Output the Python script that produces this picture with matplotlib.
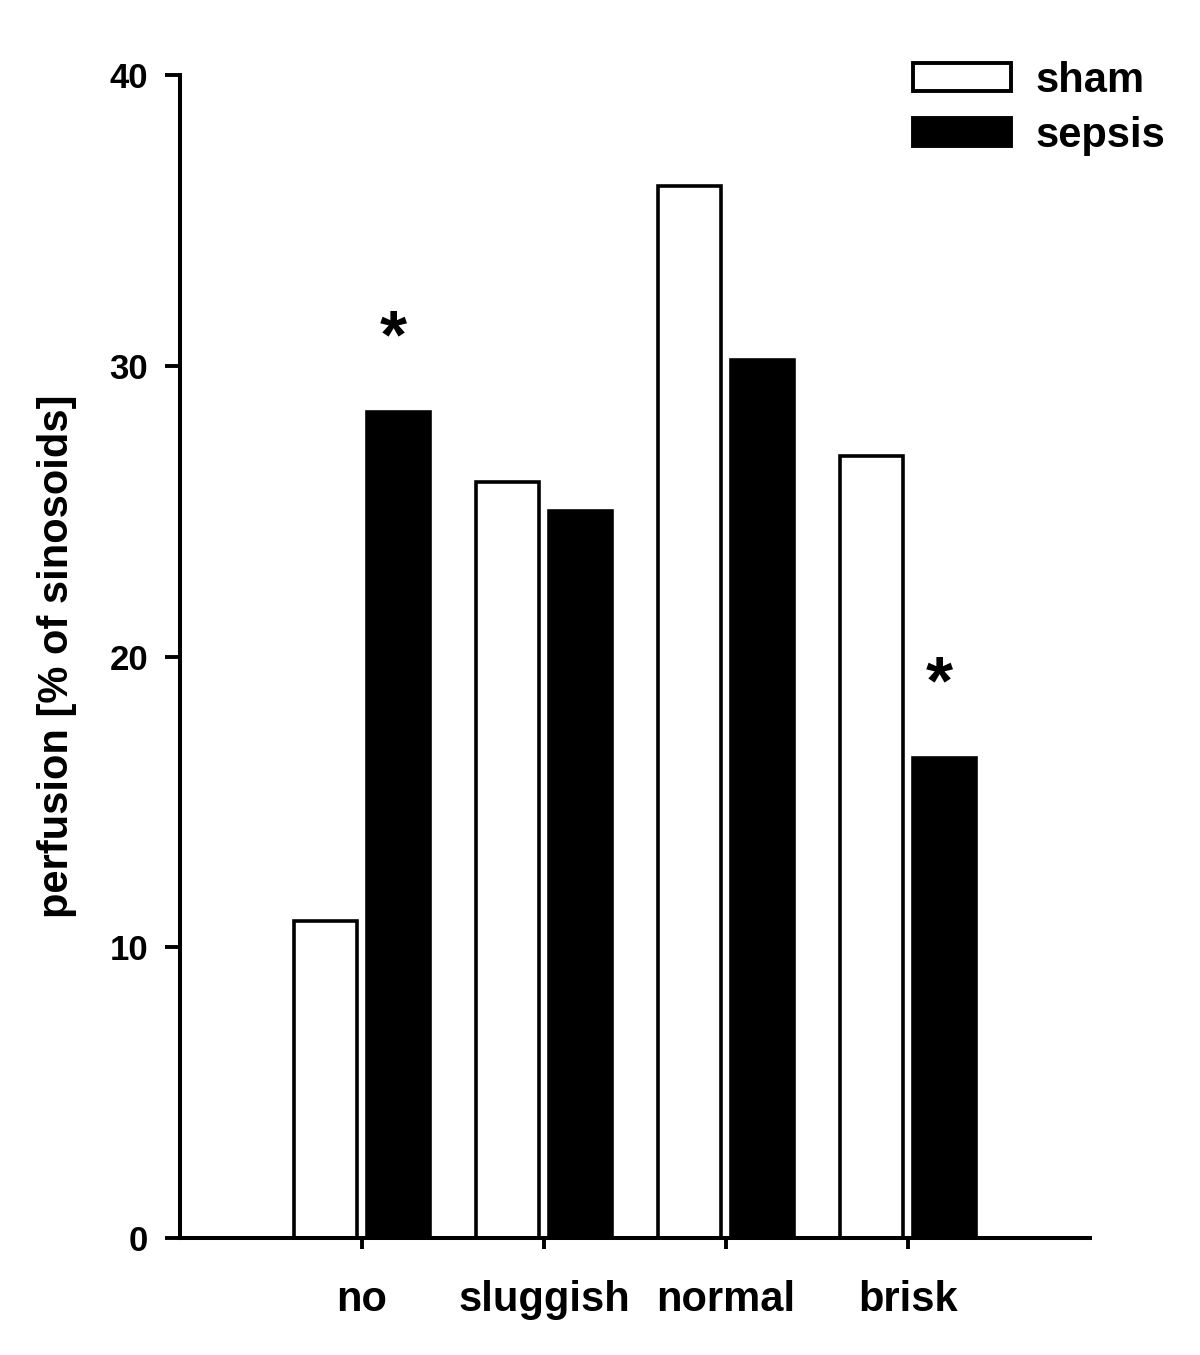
import matplotlib
matplotlib.use("Agg")
import matplotlib.pyplot as plt
import numpy as np
from matplotlib.patches import Patch

categories = ["no", "sluggish", "normal", "brisk"]
sham = [10.9, 26.0, 36.2, 26.9]
sepsis = [28.4, 25.0, 30.2, 16.5]
significant = [True, False, False, True]
yticks = [0, 10, 20, 30, 40]

plt.rcParams['font.family'] = ['Liberation Sans', 'DejaVu Sans']
plt.rcParams['font.weight'] = 'bold'

fig = plt.figure(figsize=(12, 13.55), dpi=100)
ax = fig.add_axes([0.15, 0.0863, 0.7583, 0.8583])

x = np.arange(len(categories))
w = 0.35
off = 0.2
ax.bar(x - off, sham, w, color='white', edgecolor='black', linewidth=2.6, label='sham', zorder=2)
ax.bar(x + off, sepsis, w, color='black', edgecolor='black', linewidth=2.6, label='sepsis', zorder=2)

for xi, v, s in zip(x, sepsis, significant):
    if s:
        ax.text(xi + off - 0.03, v + 2.5, "*", ha='center', va='center', fontsize=50, fontweight='bold')

ax.set_xlim(-1, 4)
ax.set_ylim(0, 40)
ax.set_yticks(yticks)
ax.set_yticklabels([str(t) for t in yticks], fontsize=25, fontweight='bold')
ax.set_xticks(x)
ax.set_xticklabels(categories, fontsize=30, fontweight='bold')
ax.tick_params(axis='y', length=11, width=2.8, pad=12)
ax.tick_params(axis='x', length=8, width=2.8, pad=22)
for side in ['top', 'right']:
    ax.spines[side].set_visible(False)
for side in ['left', 'bottom']:
    ax.spines[side].set_linewidth(2.9)
ax.set_ylabel("perfusion [% of sinosoids]", fontsize=30, fontweight='bold', labelpad=23)

handles = [Patch(facecolor='white', edgecolor='black', linewidth=2.8, label='sham'),
           Patch(facecolor='black', edgecolor='black', linewidth=2.8, label='sepsis')]
fig.legend(handles=handles, loc='upper left', bbox_to_anchor=(913/1200, 1 - 61/1355),
           frameon=False, borderpad=0, borderaxespad=0, handlelength=2.35, handleheight=0.65,
           handletextpad=0.6, labelspacing=0.36, prop={'size': 30, 'weight': 'bold'})

fig.savefig("out.png", dpi=100)
